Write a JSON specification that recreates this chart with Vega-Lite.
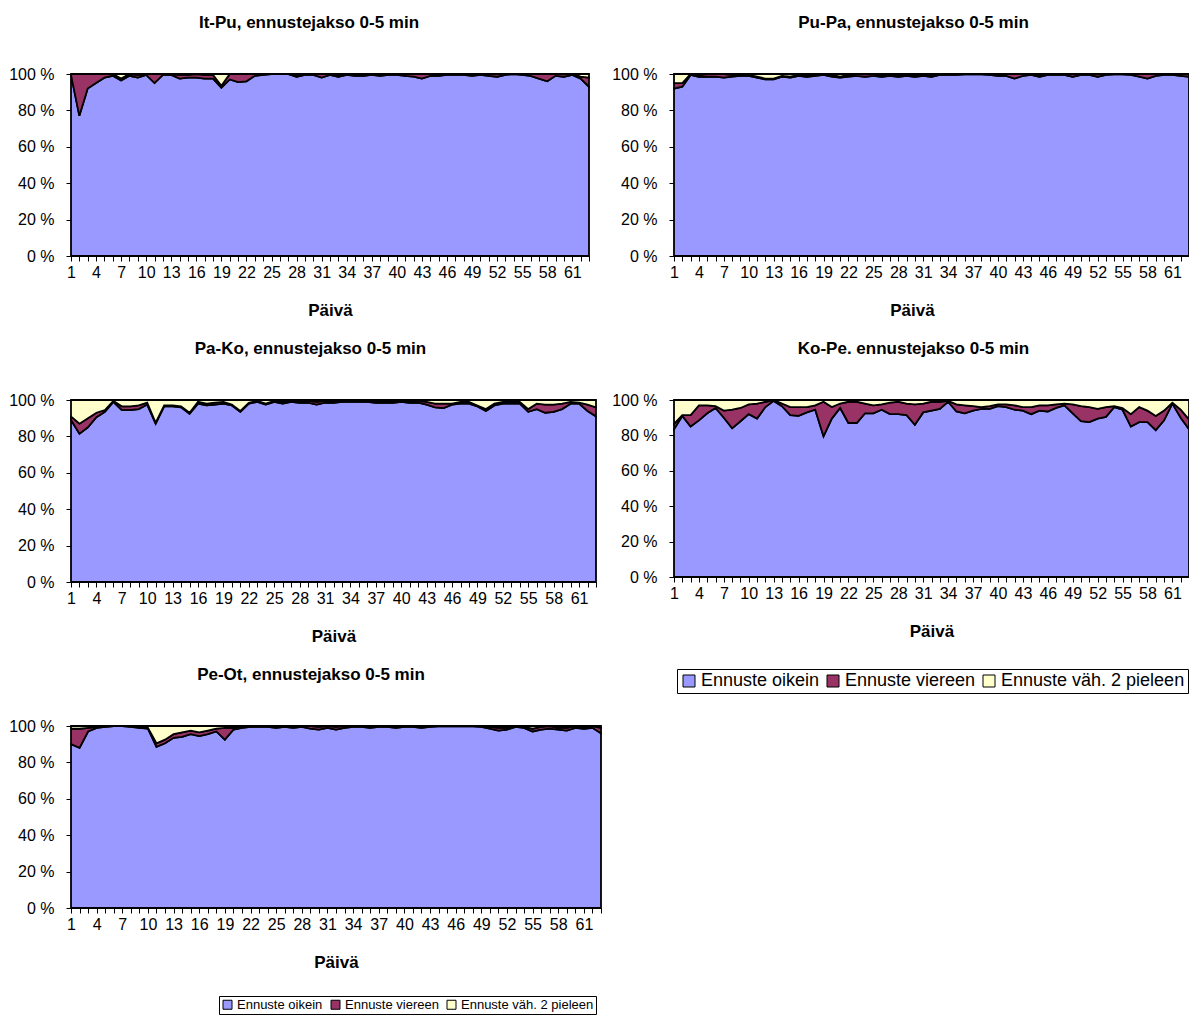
{
"$schema":"https://vega.github.io/schema/vega-lite/v6.json",
"padding":{"left":8,"top":14,"right":0,"bottom":0},
"background":"white",
"config":{"view":{"stroke":null},"font":"Liberation Sans",
"title":{"fontSize":17,"fontWeight":"bold","color":"black","offset":34,"font":"Liberation Sans"},
"axis":{"domainColor":"black","tickColor":"black","labelColor":"black","titleColor":"black","grid":false,"labelFont":"Liberation Sans","titleFont":"Liberation Sans","labelFontSize":16,"titleFontSize":17,"titleFontWeight":"bold","tickSize":5,"domainWidth":1,"tickWidth":1},
"axisX":{"labelPadding":3,"titlePadding":22,"labelOverlap":false,"labelFlush":false},
"axisY":{"labelPadding":12}},
"datasets":{"t":[
{"p":1,"d":1,"o":99.5,"v":0.5,"y":0},{"p":1,"d":2,"o":77,"v":23,"y":0},{"p":1,"d":3,"o":92,"v":8,"y":0},{"p":1,"d":4,"o":95,"v":5,"y":0},{"p":1,"d":5,"o":98,"v":2,"y":0},{"p":1,"d":6,"o":99,"v":1,"y":0},{"p":1,"d":7,"o":96.5,"v":1,"y":2.5},{"p":1,"d":8,"o":99,"v":1,"y":0},{"p":1,"d":9,"o":98,"v":1.5,"y":0.5},{"p":1,"d":10,"o":99.5,"v":0.5,"y":0},{"p":1,"d":11,"o":95,"v":5,"y":0},{"p":1,"d":12,"o":99.5,"v":0.5,"y":0},{"p":1,"d":13,"o":99.5,"v":0.5,"y":0},{"p":1,"d":14,"o":97.5,"v":2,"y":0.5},{"p":1,"d":15,"o":98,"v":1.5,"y":0.5},{"p":1,"d":16,"o":98,"v":2,"y":0},{"p":1,"d":17,"o":97.5,"v":2,"y":0.5},{"p":1,"d":18,"o":97.5,"v":2,"y":0.5},{"p":1,"d":19,"o":92.5,"v":1,"y":6.5},{"p":1,"d":20,"o":97,"v":3,"y":0},{"p":1,"d":21,"o":95.5,"v":4.5,"y":0},{"p":1,"d":22,"o":96,"v":4,"y":0},{"p":1,"d":23,"o":99,"v":1,"y":0},{"p":1,"d":24,"o":99.5,"v":0.5,"y":0},{"p":1,"d":25,"o":100,"v":0,"y":0},{"p":1,"d":26,"o":100,"v":0,"y":0},{"p":1,"d":27,"o":100,"v":0,"y":0},{"p":1,"d":28,"o":98.5,"v":0.5,"y":1},{"p":1,"d":29,"o":99.5,"v":0.5,"y":0},{"p":1,"d":30,"o":99.5,"v":0.5,"y":0},{"p":1,"d":31,"o":98,"v":2,"y":0},{"p":1,"d":32,"o":99.5,"v":0.5,"y":0},{"p":1,"d":33,"o":98.5,"v":1,"y":0.5},{"p":1,"d":34,"o":99.5,"v":0.5,"y":0},{"p":1,"d":35,"o":99,"v":1,"y":0},{"p":1,"d":36,"o":99,"v":0.5,"y":0.5},{"p":1,"d":37,"o":99.5,"v":0.5,"y":0},{"p":1,"d":38,"o":99,"v":1,"y":0},{"p":1,"d":39,"o":99.5,"v":0.5,"y":0},{"p":1,"d":40,"o":99.5,"v":0.5,"y":0},{"p":1,"d":41,"o":99,"v":1,"y":0},{"p":1,"d":42,"o":98.5,"v":1.5,"y":0},{"p":1,"d":43,"o":97.5,"v":2.5,"y":0},{"p":1,"d":44,"o":99,"v":1,"y":0},{"p":1,"d":45,"o":99,"v":1,"y":0},{"p":1,"d":46,"o":99.5,"v":0.5,"y":0},{"p":1,"d":47,"o":99.5,"v":0.5,"y":0},{"p":1,"d":48,"o":99.5,"v":0.5,"y":0},{"p":1,"d":49,"o":99,"v":1,"y":0},{"p":1,"d":50,"o":99.5,"v":0.5,"y":0},{"p":1,"d":51,"o":99,"v":1,"y":0},{"p":1,"d":52,"o":98.5,"v":1.5,"y":0},{"p":1,"d":53,"o":99.5,"v":0.5,"y":0},{"p":1,"d":54,"o":100,"v":0,"y":0},{"p":1,"d":55,"o":99.5,"v":0.5,"y":0},{"p":1,"d":56,"o":99,"v":1,"y":0},{"p":1,"d":57,"o":97.5,"v":2.5,"y":0},{"p":1,"d":58,"o":96,"v":4,"y":0},{"p":1,"d":59,"o":99,"v":1,"y":0},{"p":1,"d":60,"o":98.5,"v":1.5,"y":0},{"p":1,"d":61,"o":99.5,"v":0.5,"y":0},{"p":1,"d":62,"o":97.5,"v":1,"y":1.5},{"p":1,"d":63,"o":93,"v":5,"y":2},
{"p":2,"d":1,"o":92,"v":3,"y":5},{"p":2,"d":2,"o":93,"v":2,"y":5},{"p":2,"d":3,"o":99.5,"v":0.5,"y":0},{"p":2,"d":4,"o":98.5,"v":1,"y":0.5},{"p":2,"d":5,"o":98.5,"v":1.5,"y":0},{"p":2,"d":6,"o":98.5,"v":1.5,"y":0},{"p":2,"d":7,"o":98,"v":2,"y":0},{"p":2,"d":8,"o":98.5,"v":1,"y":0.5},{"p":2,"d":9,"o":99,"v":1,"y":0},{"p":2,"d":10,"o":99,"v":0.5,"y":0.5},{"p":2,"d":11,"o":98,"v":0.5,"y":1.5},{"p":2,"d":12,"o":97,"v":0.5,"y":2.5},{"p":2,"d":13,"o":97,"v":0.5,"y":2.5},{"p":2,"d":14,"o":98.5,"v":0.5,"y":1},{"p":2,"d":15,"o":98,"v":0.5,"y":1.5},{"p":2,"d":16,"o":99,"v":0.5,"y":0.5},{"p":2,"d":17,"o":98.5,"v":1,"y":0.5},{"p":2,"d":18,"o":99,"v":1,"y":0},{"p":2,"d":19,"o":99.5,"v":0.5,"y":0},{"p":2,"d":20,"o":98.5,"v":1,"y":0.5},{"p":2,"d":21,"o":98,"v":0.5,"y":1.5},{"p":2,"d":22,"o":98.5,"v":1,"y":0.5},{"p":2,"d":23,"o":99,"v":1,"y":0},{"p":2,"d":24,"o":98.5,"v":1.5,"y":0},{"p":2,"d":25,"o":99,"v":1,"y":0},{"p":2,"d":26,"o":98.5,"v":1,"y":0.5},{"p":2,"d":27,"o":99,"v":1,"y":0},{"p":2,"d":28,"o":98.5,"v":1,"y":0.5},{"p":2,"d":29,"o":99,"v":1,"y":0},{"p":2,"d":30,"o":98.5,"v":1,"y":0.5},{"p":2,"d":31,"o":99,"v":1,"y":0},{"p":2,"d":32,"o":98.5,"v":1,"y":0.5},{"p":2,"d":33,"o":99.5,"v":0.5,"y":0},{"p":2,"d":34,"o":99.5,"v":0.5,"y":0},{"p":2,"d":35,"o":99.5,"v":0.5,"y":0},{"p":2,"d":36,"o":99.8,"v":0.2,"y":0},{"p":2,"d":37,"o":99.8,"v":0.2,"y":0},{"p":2,"d":38,"o":99.8,"v":0.2,"y":0},{"p":2,"d":39,"o":99.5,"v":0.5,"y":0},{"p":2,"d":40,"o":99,"v":1,"y":0},{"p":2,"d":41,"o":99,"v":1,"y":0},{"p":2,"d":42,"o":97.5,"v":2.5,"y":0},{"p":2,"d":43,"o":99,"v":1,"y":0},{"p":2,"d":44,"o":99.5,"v":0.5,"y":0},{"p":2,"d":45,"o":98.5,"v":1,"y":0.5},{"p":2,"d":46,"o":99.5,"v":0.5,"y":0},{"p":2,"d":47,"o":99.5,"v":0.5,"y":0},{"p":2,"d":48,"o":99.5,"v":0.5,"y":0},{"p":2,"d":49,"o":98.5,"v":1.5,"y":0},{"p":2,"d":50,"o":99.5,"v":0.5,"y":0},{"p":2,"d":51,"o":99.5,"v":0.5,"y":0},{"p":2,"d":52,"o":98.5,"v":1.5,"y":0},{"p":2,"d":53,"o":99.5,"v":0.5,"y":0},{"p":2,"d":54,"o":99.8,"v":0.2,"y":0},{"p":2,"d":55,"o":99.8,"v":0.2,"y":0},{"p":2,"d":56,"o":99.5,"v":0.5,"y":0},{"p":2,"d":57,"o":98.5,"v":1.5,"y":0},{"p":2,"d":58,"o":97.5,"v":2.5,"y":0},{"p":2,"d":59,"o":99,"v":1,"y":0},{"p":2,"d":60,"o":99.5,"v":0.5,"y":0},{"p":2,"d":61,"o":99.5,"v":0.5,"y":0},{"p":2,"d":62,"o":99,"v":1,"y":0},{"p":2,"d":63,"o":98.5,"v":1.5,"y":0},
{"p":3,"d":1,"o":89,"v":2,"y":9},{"p":3,"d":2,"o":81.5,"v":5.5,"y":13},{"p":3,"d":3,"o":85,"v":5,"y":10},{"p":3,"d":4,"o":90.5,"v":2.5,"y":7},{"p":3,"d":5,"o":93.5,"v":1,"y":5.5},{"p":3,"d":6,"o":99,"v":0.5,"y":0.5},{"p":3,"d":7,"o":94.5,"v":2,"y":3.5},{"p":3,"d":8,"o":94.5,"v":2,"y":3.5},{"p":3,"d":9,"o":95,"v":2,"y":3},{"p":3,"d":10,"o":97.5,"v":1,"y":1.5},{"p":3,"d":11,"o":87,"v":0.5,"y":12.5},{"p":3,"d":12,"o":96.5,"v":0.5,"y":3},{"p":3,"d":13,"o":96.5,"v":0.5,"y":3},{"p":3,"d":14,"o":96,"v":0.5,"y":3.5},{"p":3,"d":15,"o":92.5,"v":0.5,"y":7},{"p":3,"d":16,"o":98,"v":1,"y":1},{"p":3,"d":17,"o":97,"v":1,"y":2},{"p":3,"d":18,"o":97.5,"v":1,"y":1.5},{"p":3,"d":19,"o":98,"v":1,"y":1},{"p":3,"d":20,"o":97,"v":0.5,"y":2.5},{"p":3,"d":21,"o":93.5,"v":0.5,"y":6},{"p":3,"d":22,"o":98,"v":0.5,"y":1.5},{"p":3,"d":23,"o":99,"v":0.5,"y":0.5},{"p":3,"d":24,"o":97.5,"v":0.5,"y":2},{"p":3,"d":25,"o":99,"v":0.5,"y":0.5},{"p":3,"d":26,"o":98,"v":1,"y":1},{"p":3,"d":27,"o":99,"v":0.5,"y":0.5},{"p":3,"d":28,"o":98.5,"v":1,"y":0.5},{"p":3,"d":29,"o":98.5,"v":1,"y":0.5},{"p":3,"d":30,"o":97.5,"v":1.5,"y":1},{"p":3,"d":31,"o":98.5,"v":1,"y":0.5},{"p":3,"d":32,"o":98.5,"v":1,"y":0.5},{"p":3,"d":33,"o":99,"v":0.5,"y":0.5},{"p":3,"d":34,"o":99,"v":0.5,"y":0.5},{"p":3,"d":35,"o":99,"v":0.5,"y":0.5},{"p":3,"d":36,"o":99,"v":0.5,"y":0.5},{"p":3,"d":37,"o":98.5,"v":1,"y":0.5},{"p":3,"d":38,"o":98.5,"v":1,"y":0.5},{"p":3,"d":39,"o":98.5,"v":1,"y":0.5},{"p":3,"d":40,"o":99,"v":0.5,"y":0.5},{"p":3,"d":41,"o":98.5,"v":1,"y":0.5},{"p":3,"d":42,"o":98.5,"v":1,"y":0.5},{"p":3,"d":43,"o":97.5,"v":1.5,"y":1},{"p":3,"d":44,"o":96,"v":2,"y":2},{"p":3,"d":45,"o":95.5,"v":2.5,"y":2},{"p":3,"d":46,"o":97.5,"v":0.5,"y":2},{"p":3,"d":47,"o":98,"v":1,"y":1},{"p":3,"d":48,"o":98,"v":1,"y":1},{"p":3,"d":49,"o":96.5,"v":0.5,"y":3},{"p":3,"d":50,"o":94,"v":1,"y":5},{"p":3,"d":51,"o":97,"v":1,"y":2},{"p":3,"d":52,"o":98,"v":1,"y":1},{"p":3,"d":53,"o":98,"v":1,"y":1},{"p":3,"d":54,"o":98,"v":1,"y":1},{"p":3,"d":55,"o":93.5,"v":1.5,"y":5},{"p":3,"d":56,"o":95,"v":3,"y":2},{"p":3,"d":57,"o":93,"v":4.5,"y":2.5},{"p":3,"d":58,"o":93.5,"v":4,"y":2.5},{"p":3,"d":59,"o":95,"v":3,"y":2},{"p":3,"d":60,"o":98,"v":1,"y":1},{"p":3,"d":61,"o":98,"v":0.5,"y":1.5},{"p":3,"d":62,"o":94,"v":3.5,"y":2.5},{"p":3,"d":63,"o":91,"v":5,"y":4},
{"p":4,"d":1,"o":83.5,"v":3,"y":13.5},{"p":4,"d":2,"o":91,"v":0.5,"y":8.5},{"p":4,"d":3,"o":85,"v":6.5,"y":8.5},{"p":4,"d":4,"o":88.5,"v":8.5,"y":3},{"p":4,"d":5,"o":92.5,"v":4.5,"y":3},{"p":4,"d":6,"o":95.5,"v":1,"y":3.5},{"p":4,"d":7,"o":90,"v":4,"y":6},{"p":4,"d":8,"o":84,"v":10.5,"y":5.5},{"p":4,"d":9,"o":88,"v":7.5,"y":4.5},{"p":4,"d":10,"o":92,"v":5.5,"y":2.5},{"p":4,"d":11,"o":89.5,"v":8.5,"y":2},{"p":4,"d":12,"o":96,"v":3,"y":1},{"p":4,"d":13,"o":99.5,"v":0.5,"y":0},{"p":4,"d":14,"o":96.5,"v":1.5,"y":2},{"p":4,"d":15,"o":91.5,"v":4.5,"y":4},{"p":4,"d":16,"o":91,"v":5,"y":4},{"p":4,"d":17,"o":93,"v":3,"y":4},{"p":4,"d":18,"o":94.5,"v":2.5,"y":3},{"p":4,"d":19,"o":79.5,"v":19.5,"y":1},{"p":4,"d":20,"o":89.5,"v":6.5,"y":4},{"p":4,"d":21,"o":95.5,"v":2.5,"y":2},{"p":4,"d":22,"o":87,"v":12,"y":1},{"p":4,"d":23,"o":87,"v":12,"y":1},{"p":4,"d":24,"o":92.5,"v":5.5,"y":2},{"p":4,"d":25,"o":92.5,"v":4.5,"y":3},{"p":4,"d":26,"o":94.5,"v":3,"y":2.5},{"p":4,"d":27,"o":92,"v":6.5,"y":1.5},{"p":4,"d":28,"o":92,"v":7,"y":1},{"p":4,"d":29,"o":91.5,"v":6.5,"y":2},{"p":4,"d":30,"o":86,"v":11.5,"y":2.5},{"p":4,"d":31,"o":93,"v":5,"y":2},{"p":4,"d":32,"o":94,"v":5,"y":1},{"p":4,"d":33,"o":95,"v":4,"y":1},{"p":4,"d":34,"o":99,"v":0.5,"y":0.5},{"p":4,"d":35,"o":93.5,"v":4,"y":2.5},{"p":4,"d":36,"o":92.5,"v":4.5,"y":3},{"p":4,"d":37,"o":94,"v":2.5,"y":3.5},{"p":4,"d":38,"o":95,"v":1,"y":4},{"p":4,"d":39,"o":95,"v":1.5,"y":3.5},{"p":4,"d":40,"o":96.5,"v":1,"y":2.5},{"p":4,"d":41,"o":96,"v":1.5,"y":2.5},{"p":4,"d":42,"o":94.5,"v":2.5,"y":3},{"p":4,"d":43,"o":94,"v":2,"y":4},{"p":4,"d":44,"o":92,"v":4,"y":4},{"p":4,"d":45,"o":94,"v":3,"y":3},{"p":4,"d":46,"o":93.5,"v":3.5,"y":3},{"p":4,"d":47,"o":95.5,"v":2,"y":2.5},{"p":4,"d":48,"o":97,"v":1,"y":2},{"p":4,"d":49,"o":92.5,"v":5,"y":2.5},{"p":4,"d":50,"o":88,"v":8.5,"y":3.5},{"p":4,"d":51,"o":87.5,"v":8.5,"y":4},{"p":4,"d":52,"o":89.5,"v":5.5,"y":5},{"p":4,"d":53,"o":90.5,"v":5.5,"y":4},{"p":4,"d":54,"o":96,"v":0.5,"y":3.5},{"p":4,"d":55,"o":94.5,"v":1,"y":4.5},{"p":4,"d":56,"o":85,"v":7,"y":8},{"p":4,"d":57,"o":87.5,"v":8.5,"y":4},{"p":4,"d":58,"o":87.5,"v":6.5,"y":6},{"p":4,"d":59,"o":83,"v":8,"y":9},{"p":4,"d":60,"o":88.5,"v":5.5,"y":6},{"p":4,"d":61,"o":98,"v":0.5,"y":1.5},{"p":4,"d":62,"o":90,"v":4.5,"y":5.5},{"p":4,"d":63,"o":83.5,"v":5.5,"y":11},
{"p":5,"d":1,"o":90,"v":8.5,"y":1.5},{"p":5,"d":2,"o":88,"v":10.5,"y":1.5},{"p":5,"d":3,"o":97,"v":2,"y":1},{"p":5,"d":4,"o":99,"v":0.5,"y":0.5},{"p":5,"d":5,"o":99.5,"v":0.3,"y":0.2},{"p":5,"d":6,"o":100,"v":0,"y":0},{"p":5,"d":7,"o":100,"v":0,"y":0},{"p":5,"d":8,"o":99.5,"v":0.5,"y":0},{"p":5,"d":9,"o":99,"v":0.5,"y":0.5},{"p":5,"d":10,"o":98.5,"v":0.5,"y":1},{"p":5,"d":11,"o":88.5,"v":2,"y":9.5},{"p":5,"d":12,"o":90.5,"v":2,"y":7.5},{"p":5,"d":13,"o":93.5,"v":2,"y":4.5},{"p":5,"d":14,"o":94,"v":2.5,"y":3.5},{"p":5,"d":15,"o":95.5,"v":2,"y":2.5},{"p":5,"d":16,"o":94.5,"v":2,"y":3.5},{"p":5,"d":17,"o":95.5,"v":2,"y":2.5},{"p":5,"d":18,"o":97,"v":1.5,"y":1.5},{"p":5,"d":19,"o":92.5,"v":6.5,"y":1},{"p":5,"d":20,"o":98,"v":1,"y":1},{"p":5,"d":21,"o":99,"v":0.5,"y":0.5},{"p":5,"d":22,"o":99.5,"v":0.3,"y":0.2},{"p":5,"d":23,"o":99.5,"v":0.5,"y":0},{"p":5,"d":24,"o":99.5,"v":0.5,"y":0},{"p":5,"d":25,"o":99,"v":1,"y":0},{"p":5,"d":26,"o":99.5,"v":0.5,"y":0},{"p":5,"d":27,"o":99,"v":0.5,"y":0.5},{"p":5,"d":28,"o":99.5,"v":0.5,"y":0},{"p":5,"d":29,"o":98.5,"v":1.5,"y":0},{"p":5,"d":30,"o":98,"v":1.5,"y":0.5},{"p":5,"d":31,"o":99,"v":1,"y":0},{"p":5,"d":32,"o":98,"v":1.5,"y":0.5},{"p":5,"d":33,"o":99,"v":1,"y":0},{"p":5,"d":34,"o":99.5,"v":0.5,"y":0},{"p":5,"d":35,"o":99.5,"v":0.5,"y":0},{"p":5,"d":36,"o":99,"v":1,"y":0},{"p":5,"d":37,"o":99.5,"v":0.5,"y":0},{"p":5,"d":38,"o":99.5,"v":0.5,"y":0},{"p":5,"d":39,"o":99,"v":1,"y":0},{"p":5,"d":40,"o":99.5,"v":0.5,"y":0},{"p":5,"d":41,"o":99.5,"v":0.5,"y":0},{"p":5,"d":42,"o":99,"v":1,"y":0},{"p":5,"d":43,"o":99.5,"v":0.5,"y":0},{"p":5,"d":44,"o":99.8,"v":0.2,"y":0},{"p":5,"d":45,"o":99.8,"v":0.2,"y":0},{"p":5,"d":46,"o":99.8,"v":0.2,"y":0},{"p":5,"d":47,"o":99.8,"v":0.2,"y":0},{"p":5,"d":48,"o":99.8,"v":0.2,"y":0},{"p":5,"d":49,"o":99.5,"v":0.5,"y":0},{"p":5,"d":50,"o":98.5,"v":1,"y":0.5},{"p":5,"d":51,"o":97.5,"v":1.5,"y":1},{"p":5,"d":52,"o":98,"v":1,"y":1},{"p":5,"d":53,"o":99.5,"v":0.5,"y":0},{"p":5,"d":54,"o":99,"v":0.5,"y":0.5},{"p":5,"d":55,"o":97,"v":1.5,"y":1.5},{"p":5,"d":56,"o":98,"v":1.5,"y":0.5},{"p":5,"d":57,"o":98.5,"v":1.5,"y":0},{"p":5,"d":58,"o":98,"v":1,"y":1},{"p":5,"d":59,"o":97.5,"v":1.5,"y":1},{"p":5,"d":60,"o":99,"v":1,"y":0},{"p":5,"d":61,"o":98.5,"v":1,"y":0.5},{"p":5,"d":62,"o":99,"v":1,"y":0},{"p":5,"d":63,"o":96,"v":3,"y":1}
]},
"columns":2,
"align":"none",
"bounds":"flush",
"spacing":{"row":144,"column":73},
"resolve":{"scale":{"color":"independent"},"legend":{"color":"independent"}},
"concat":[
{"width":518,"height":182,"title":{"text":"It-Pu, ennustejakso 0-5 min","dx":-21},
"data":{"name":"t"},
"transform":[{"filter":"datum.p == 1"},{"fold":["o","v","y"],"as":["k","val"]}],
"mark":{"type":"area","stroke":"black","strokeWidth":1.8,"interpolate":"linear"},
"encoding":{
"x":{"field":"d","type":"quantitative","title":"Päivä","scale":{"domain":[1,63],"nice":false,"zero":false},"axis":{"values":[1,2,3,4,5,6,7,8,9,10,11,12,13,14,15,16,17,18,19,20,21,22,23,24,25,26,27,28,29,30,31,32,33,34,35,36,37,38,39,40,41,42,43,44,45,46,47,48,49,50,51,52,53,54,55,56,57,58,59,60,61,62,63],"labelExpr":"(datum.value - 1) % 3 == 0 ? datum.label : ''"}},
"y":{"field":"val","type":"quantitative","stack":"normalize","title":null,"scale":{"domain":[0,1]},"axis":{"values":[0,0.2,0.4,0.6,0.8,1],"labelExpr":"round(datum.value*100) + ' %'"}},
"color":{"field":"k","type":"nominal","scale":{"domain":["o","v","y"],"range":["#9999FF","#993366","#FFFFCC"]},"legend":null},
"order":{"field":"k","sort":"ascending"}}},
{"width":515,"height":182,"title":{"text":"Pu-Pa, ennustejakso 0-5 min","dx":-18},
"data":{"name":"t"},
"transform":[{"filter":"datum.p == 2"},{"fold":["o","v","y"],"as":["k","val"]}],
"mark":{"type":"area","stroke":"black","strokeWidth":1.8,"interpolate":"linear"},
"encoding":{
"x":{"field":"d","type":"quantitative","title":"Päivä","scale":{"domain":[1,63],"nice":false,"zero":false},"axis":{"titleX":238,"values":[1,2,3,4,5,6,7,8,9,10,11,12,13,14,15,16,17,18,19,20,21,22,23,24,25,26,27,28,29,30,31,32,33,34,35,36,37,38,39,40,41,42,43,44,45,46,47,48,49,50,51,52,53,54,55,56,57,58,59,60,61,62,63],"labelExpr":"(datum.value - 1) % 3 == 0 ? datum.label : ''"}},
"y":{"field":"val","type":"quantitative","stack":"normalize","title":null,"scale":{"domain":[0,1]},"axis":{"values":[0,0.2,0.4,0.6,0.8,1],"labelExpr":"round(datum.value*100) + ' %'"}},
"color":{"field":"k","type":"nominal","scale":{"domain":["o","v","y"],"range":["#9999FF","#993366","#FFFFCC"]},"legend":null},
"order":{"field":"k","sort":"ascending"}}},
{"width":525,"height":182,"title":{"text":"Pa-Ko, ennustejakso 0-5 min","dx":-23},
"data":{"name":"t"},
"transform":[{"filter":"datum.p == 3"},{"fold":["o","v","y"],"as":["k","val"]}],
"mark":{"type":"area","stroke":"black","strokeWidth":1.8,"interpolate":"linear"},
"encoding":{
"x":{"field":"d","type":"quantitative","title":"Päivä","scale":{"domain":[1,63],"nice":false,"zero":false},"axis":{"values":[1,2,3,4,5,6,7,8,9,10,11,12,13,14,15,16,17,18,19,20,21,22,23,24,25,26,27,28,29,30,31,32,33,34,35,36,37,38,39,40,41,42,43,44,45,46,47,48,49,50,51,52,53,54,55,56,57,58,59,60,61,62,63],"labelExpr":"(datum.value - 1) % 3 == 0 ? datum.label : ''"}},
"y":{"field":"val","type":"quantitative","stack":"normalize","title":null,"scale":{"domain":[0,1]},"axis":{"values":[0,0.2,0.4,0.6,0.8,1],"labelExpr":"round(datum.value*100) + ' %'"}},
"color":{"field":"k","type":"nominal","scale":{"domain":["o","v","y"],"range":["#9999FF","#993366","#FFFFCC"]},"legend":null},
"order":{"field":"k","sort":"ascending"}}},
{"width":515,"height":177,"title":{"text":"Ko-Pe. ennustejakso 0-5 min","dx":-18},
"data":{"name":"t"},
"transform":[{"filter":"datum.p == 4"},{"fold":["o","v","y"],"as":["k","val"]}],
"mark":{"type":"area","stroke":"black","strokeWidth":1.8,"interpolate":"linear"},
"encoding":{
"x":{"field":"d","type":"quantitative","title":"Päivä","scale":{"domain":[1,63],"nice":false,"zero":false},"axis":{"values":[1,2,3,4,5,6,7,8,9,10,11,12,13,14,15,16,17,18,19,20,21,22,23,24,25,26,27,28,29,30,31,32,33,34,35,36,37,38,39,40,41,42,43,44,45,46,47,48,49,50,51,52,53,54,55,56,57,58,59,60,61,62,63],"labelExpr":"(datum.value - 1) % 3 == 0 ? datum.label : ''"}},
"y":{"field":"val","type":"quantitative","stack":"normalize","title":null,"scale":{"domain":[0,1]},"axis":{"values":[0,0.2,0.4,0.6,0.8,1],"labelExpr":"round(datum.value*100) + ' %'"}},
"color":{"field":"k","type":"nominal","scale":{"domain":["o","v","y"],"range":["#9999FF","#993366","#FFFFCC"]},"legend":{"orient":"none","legendX":3,"legendY":269,"direction":"horizontal","columns":3,"title":null,"symbolType":"square","symbolSize":144,"symbolStrokeColor":"black","symbolStrokeWidth":1,"labelFontSize":18,"labelColor":"black","labelFont":"Liberation Sans","strokeColor":"black","fillColor":"white","padding":3,"columnPadding":4,"labelOffset":3,"labelLimit":400,"labelExpr":"datum.label == 'o' ? 'Ennuste oikein' : datum.label == 'v' ? 'Ennuste viereen' : 'Ennuste väh. 2 pieleen'"}},
"order":{"field":"k","sort":"ascending"}}},
{"width":530,"height":182,"title":{"text":"Pe-Ot, ennustejakso 0-5 min","dx":-25},
"data":{"name":"t"},
"transform":[{"filter":"datum.p == 5"},{"fold":["o","v","y"],"as":["k","val"]}],
"mark":{"type":"area","stroke":"black","strokeWidth":1.8,"interpolate":"linear"},
"encoding":{
"x":{"field":"d","type":"quantitative","title":"Päivä","scale":{"domain":[1,63],"nice":false,"zero":false},"axis":{"values":[1,2,3,4,5,6,7,8,9,10,11,12,13,14,15,16,17,18,19,20,21,22,23,24,25,26,27,28,29,30,31,32,33,34,35,36,37,38,39,40,41,42,43,44,45,46,47,48,49,50,51,52,53,54,55,56,57,58,59,60,61,62,63],"labelExpr":"(datum.value - 1) % 3 == 0 ? datum.label : ''"}},
"y":{"field":"val","type":"quantitative","stack":"normalize","title":null,"scale":{"domain":[0,1]},"axis":{"values":[0,0.2,0.4,0.6,0.8,1],"labelExpr":"round(datum.value*100) + ' %'"}},
"color":{"field":"k","type":"nominal","scale":{"domain":["o","v","y"],"range":["#9999FF","#993366","#FFFFCC"]},"legend":{"orient":"none","legendX":148,"legendY":270,"direction":"horizontal","columns":3,"title":null,"symbolType":"square","symbolSize":81,"symbolStrokeColor":"black","symbolStrokeWidth":1,"labelFontSize":13,"labelColor":"black","labelFont":"Liberation Sans","strokeColor":"black","fillColor":"white","padding":2,"columnPadding":6,"labelOffset":3,"labelLimit":400,"labelExpr":"datum.label == 'o' ? 'Ennuste oikein' : datum.label == 'v' ? 'Ennuste viereen' : 'Ennuste väh. 2 pieleen'"}},
"order":{"field":"k","sort":"ascending"}}}
]
}
